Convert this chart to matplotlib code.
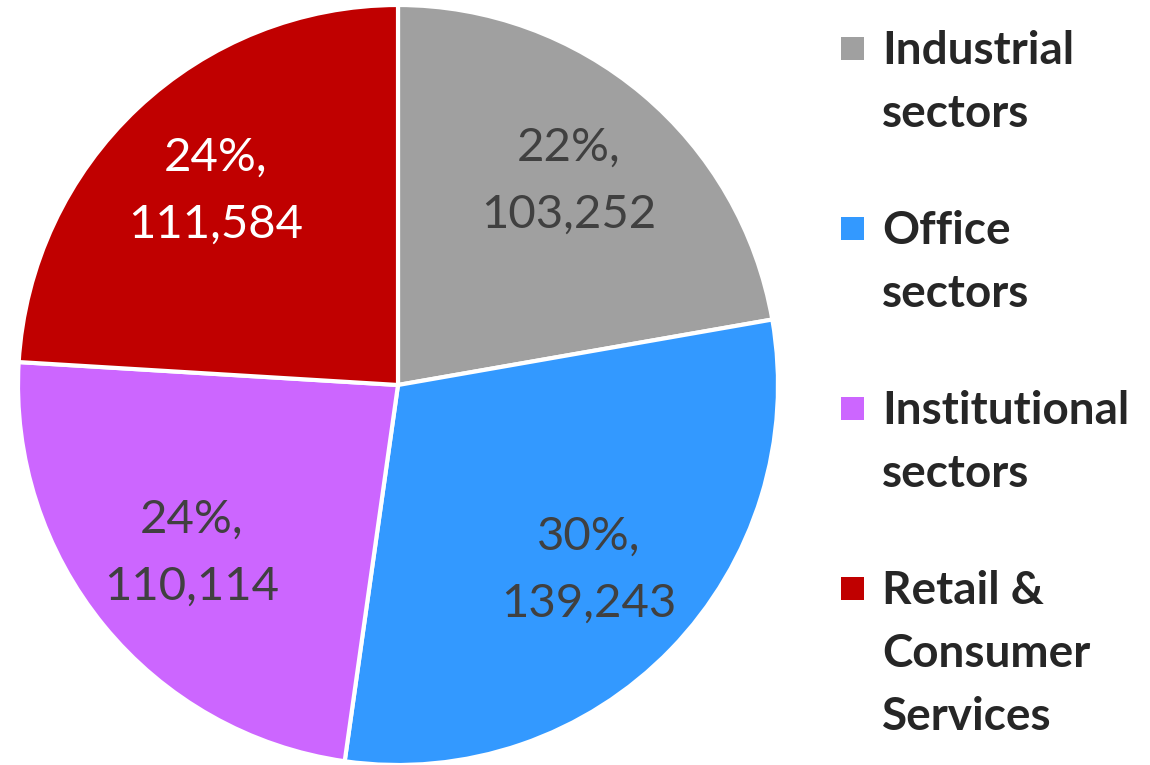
import matplotlib
matplotlib.use("Agg")
import matplotlib.pyplot as plt
from matplotlib.patches import Rectangle

sectors = ["Industrial\nsectors", "Office\nsectors", "Institutional\nsectors",
           "Retail &\nConsumer\nServices"]
values = [103252, 139243, 110114, 111584]
colors = ["#A0A0A0", "#3399FF", "#CC66FF", "#C00000"]
label_colors = ["#404040", "#404040", "#404040", "white"]

plt.rcParams["font.family"] = ["Lato", "DejaVu Sans"]

W, H = 1150, 765
fig = plt.figure(figsize=(W / 100, H / 100), dpi=100)
ax = fig.add_axes([18 / W, 0.0, 760 / W, 760 / H])

total = sum(values)


def fmt(pct):
    v = round(pct * total / 100)
    return "{:.0f}%,\n{:,}".format(pct, v)


wedges, texts, autotexts = ax.pie(
    values, colors=colors, startangle=90, counterclock=False,
    autopct=fmt, pctdistance=0.70, radius=1.0,
    wedgeprops=dict(edgecolor="white", linewidth=3),
    textprops=dict(fontsize=34, linespacing=1.72),
)
for t, c in zip(autotexts, label_colors):
    t.set_color(c)
ax.set_xlim(-1, 1)
ax.set_ylim(-1, 1)
ax.set_aspect("equal")

# legend drawn by hand: square beside the first line of each wrapped label
base = 64
for i, (name, col) in enumerate(zip(sectors, colors)):
    y0 = base + 180 * i
    fig.patches.append(Rectangle((841 / W, 1 - (y0 - 4) / H), 23 / W, 23 / H,
                                 transform=fig.transFigure, facecolor=col,
                                 edgecolor="none"))
    for j, line in enumerate(name.split("\n")):
        fig.text(882 / W, 1 - (y0 + 63 * j) / H, line, fontsize=33,
                 fontweight="bold", color="#262626", va="baseline", ha="left")

fig.savefig("out.png", dpi=100)
